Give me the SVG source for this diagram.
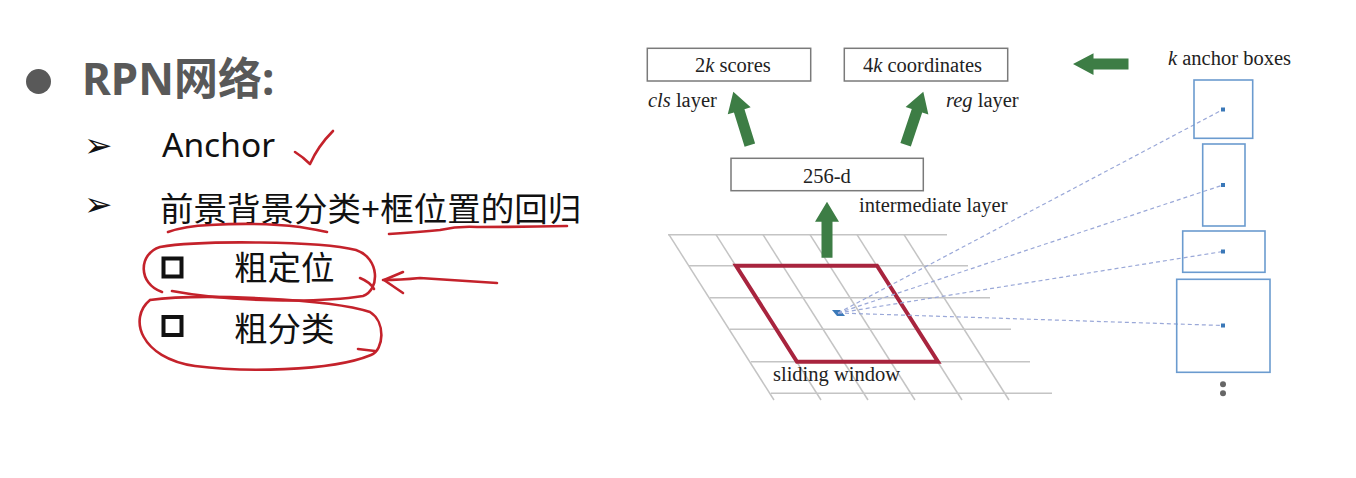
<svg xmlns="http://www.w3.org/2000/svg" width="1356" height="478" viewBox="0 0 1356 478">
<defs>
<style>
.title{font-family:"Noto Sans","Noto Sans CJK SC",sans-serif;font-weight:bold;font-size:44px;fill:#595959}
.body{font-family:"Noto Sans","Noto Sans CJK SC",sans-serif;font-size:33.5px;fill:#111}
.sym{font-family:"DejaVu Sans",sans-serif;font-size:34px;fill:#111}
.lbl{font-family:"Liberation Serif",serif;font-size:20.5px;fill:#222}
.box{fill:#fff;stroke:#7a7a7a;stroke-width:1.5}
.grid{stroke:#c4c4c4;stroke-width:1.5;fill:none}
.anchor{fill:none;stroke:#6b9bcf;stroke-width:1.6}
.dot{fill:#3a78b8}
.dash{stroke:#9aa8d8;stroke-width:1.2;stroke-dasharray:4 3;fill:none}
.green{fill:#3d7d45}
.ink{fill:none;stroke:#c4222b;stroke-width:2.6;stroke-linecap:round;stroke-linejoin:round}
</style>
<path id="garrow" d="M0 0 L12 20 L5.5 20 L5.5 56 L-5.5 56 L-5.5 20 L-12 20 Z"/>
</defs>
<rect width="1356" height="478" fill="#fff"/>

<g id="slide-text">
<circle cx="38.5" cy="81.5" r="12.5" fill="#595959"/>
<text class="title" x="82" y="95">RPN网络:</text>
<text class="sym" x="84" y="157">➢</text>
<text class="body" x="162" y="157">Anchor</text>
<text class="sym" x="84" y="216">➢</text>
<text class="body" x="160" y="221">前景背景分类+框位置的回归</text>
<rect x="163.5" y="258.5" width="18" height="18" fill="none" stroke="#111" stroke-width="4"/>
<text class="body" x="234" y="280">粗定位</text>
<rect x="163.5" y="317" width="18" height="18" fill="none" stroke="#111" stroke-width="4"/>
<text class="body" x="234" y="341">粗分类</text>
</g>

<g id="annotations">
<path class="ink" d="M295 152 Q303 157 310 164 Q318 146 333 131"/>
<path class="ink" d="M168 232 Q185 226 210 225 Q260 222 300 227 Q318 230 327 232"/>
<path class="ink" d="M389 234 Q420 232 440 230 Q458 226 477 227 Q520 227 567 226"/>
<path class="ink" d="M162 292 C138 284 138 254 160 247 C200 240 320 241 356 250 C380 258 380 290 363 296 C320 303 230 302 172 291"/>
<path class="ink" d="M360 278 Q370 282 374 289"/>
<path class="ink" d="M150 300 C200 293 330 299 370 312 C386 322 384 350 371 355 C330 372 240 372 195 366 C140 358 128 318 150 300"/>
<path class="ink" d="M358 349 L375 351"/>
<path class="ink" d="M497 283 Q450 280 420 278 Q400 280 383 280"/>
<path class="ink" d="M403 272 L384 280 L403 293"/>
</g>

<g id="feature-grid">
<line class="grid" x1="668" y1="234.7" x2="947" y2="234.7"/>
<line class="grid" x1="689" y1="265.7" x2="968" y2="265.7"/>
<line class="grid" x1="710" y1="297.7" x2="990" y2="297.7"/>
<line class="grid" x1="730" y1="329.3" x2="1011" y2="329.3"/>
<line class="grid" x1="751" y1="361.7" x2="1030" y2="361.7"/>
<line class="grid" x1="771" y1="393.3" x2="1052" y2="393.3"/>
<line class="grid" x1="669" y1="234.7" x2="774" y2="400"/>
<line class="grid" x1="716" y1="234.7" x2="821" y2="400"/>
<line class="grid" x1="763" y1="234.7" x2="868" y2="400"/>
<line class="grid" x1="810" y1="234.7" x2="915" y2="400"/>
<line class="grid" x1="857" y1="234.7" x2="962" y2="400"/>
<line class="grid" x1="904" y1="234.7" x2="1009" y2="400"/>
</g>

<g id="sliding-window">
<polygon points="736,265.7 877,265.7 938,361.7 797,361.7" fill="none" stroke="#a8243e" stroke-width="4" stroke-linejoin="miter"/>
<polygon points="832,310 840,310 845,316 837,316" class="dot"/>
<text class="lbl" x="773" y="381">sliding window</text>
</g>

<g id="connectors">
<line class="dash" x1="838" y1="313" x2="1223" y2="109.5"/>
<line class="dash" x1="838" y1="313" x2="1223" y2="185"/>
<line class="dash" x1="838" y1="313" x2="1223" y2="251.5"/>
<line class="dash" x1="838" y1="313" x2="1223" y2="325.5"/>
<use href="#garrow" class="green" transform="translate(827,201.7)"/>
<use href="#garrow" class="green" transform="translate(733.3,91.7) rotate(-17.2)"/>
<use href="#garrow" class="green" transform="translate(923.3,91.7) rotate(18.4)"/>
<polygon class="green" points="1073,64 1093.5,53.3 1093.5,58.5 1128.5,58.5 1128.5,69.5 1093.5,69.5 1093.5,75"/>
</g>

<g id="node-256d">
<rect class="box" x="731" y="158.3" width="192.3" height="32.4"/>
<text class="lbl" x="803" y="183">256-d</text>
<text class="lbl" x="859" y="211.7">intermediate layer</text>
</g>

<g id="node-cls">
<rect class="box" x="647.3" y="48.3" width="163.4" height="32.7"/>
<text class="lbl" x="695" y="72"><tspan>2</tspan><tspan font-style="italic">k</tspan><tspan> scores</tspan></text>
<text class="lbl" x="648" y="107"><tspan font-style="italic">cls</tspan><tspan> layer</tspan></text>
</g>

<g id="node-reg">
<rect class="box" x="844.3" y="48.3" width="163.4" height="32.7"/>
<text class="lbl" x="863" y="72"><tspan>4</tspan><tspan font-style="italic">k</tspan><tspan> coordinates</tspan></text>
<text class="lbl" x="946" y="107"><tspan font-style="italic">reg</tspan><tspan> layer</tspan></text>
</g>

<g id="anchor-boxes">
<text class="lbl" x="1168" y="65"><tspan font-style="italic">k</tspan><tspan> anchor boxes</tspan></text>
<rect class="anchor" x="1194" y="80" width="58.7" height="58.3"/>
<rect class="dot" x="1221" y="107.5" width="4" height="4"/>
<rect class="anchor" x="1202.7" y="144" width="42.3" height="82"/>
<rect class="dot" x="1221" y="183" width="4" height="4"/>
<rect class="anchor" x="1182.7" y="231" width="82.3" height="41.3"/>
<rect class="dot" x="1221" y="249.5" width="4" height="4"/>
<rect class="anchor" x="1176.7" y="279.3" width="93.3" height="93"/>
<rect class="dot" x="1221" y="323.5" width="4" height="4"/>
<circle cx="1223" cy="384.3" r="3" fill="#666"/>
<circle cx="1223" cy="393.3" r="3" fill="#666"/>
</g>
</svg>
